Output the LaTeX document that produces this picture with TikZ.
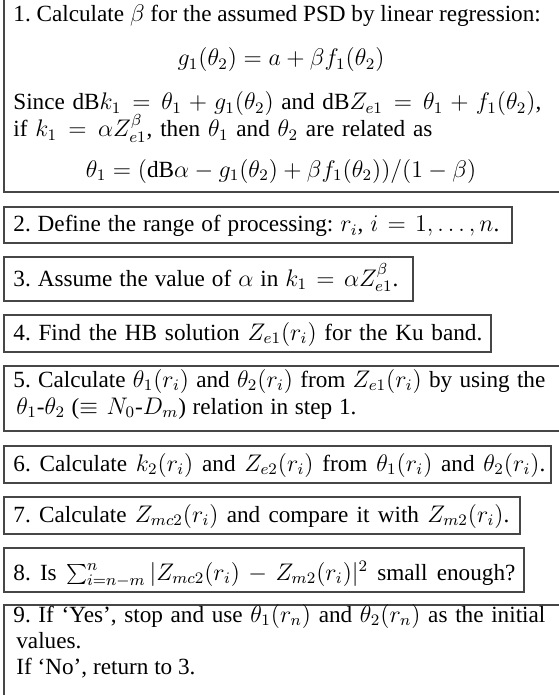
\documentclass[tikz,border=0pt]{standalone}
\usepackage{fontspec}
\setmainfont{Liberation Serif}
\usetikzlibrary{fit}
\definecolor{boxgray}{RGB}{70,70,70}
\newcommand{\fitline}[2]{\hbox to #1{#2}}
\begin{document}
\begin{tikzpicture}[x=0.5pt,y=-0.5pt,
  box/.style={draw=boxgray, line width=0.7pt, inner sep=0pt},
  txt/.style={anchor=base west, inner sep=0pt, font=\fontsize{11.6}{13.5}\selectfont\frenchspacing},
  eq/.style={anchor=base, inner sep=0pt, font=\fontsize{11.6}{13.5}\selectfont}]
\useasboundingbox (0,0) rectangle (558,695);
% boxes
\node[box, fit={(4,-5) (566,192)}] (b1) {};
\node[box, fit={(4,207) (512,243)}] (b2) {};
\node[box, fit={(4,257) (413,301)}] (b3) {};
\node[box, fit={(4,315) (491,352)}] (b4) {};
\node[box, fit={(4,366) (566,431)}] (b5) {};
\node[box, fit={(4,446) (551,483)}] (b6) {};
\node[box, fit={(4,497) (520,534)}] (b7) {};
\node[box, fit={(4,548) (524,592)}] (b8) {};
\node[box, fit={(4,605) (566,705)}] (b9) {};
% box 1
\node[txt] (t1a) at (13,22) {1. Calculate $\beta$ for the assumed PSD by linear regression:};
\node[eq] (t1b) at (281,66) {$g_1(\theta_2) = a + \beta f_1(\theta_2)$};
\node[txt] (t1c) at (13,110) {\fitline{264pt}{Since $\mathrm{dB}k_1 = \theta_1 + g_1(\theta_2)$ and $\mathrm{dB}Z_{e1} = \theta_1 + f_1(\theta_2)$,}};
\node[txt] (t1d) at (13,137) {\fitline{209.5pt}{if $k_1 = \alpha Z_{e1}^{\beta}$, then $\theta_1$ and $\theta_2$ are related as}};
\node[eq] (t1e) at (281,177) {$\theta_1 = (\mathrm{dB}\alpha - g_1(\theta_2) + \beta f_1(\theta_2))/(1-\beta)$};
% box 2-4
\node[txt] (t2) at (13,232) {\fitline{243pt}{2. Define the range of processing: $r_i$, $i = 1,\ldots,n$.}};
\node[txt] (t3) at (13,286) {\fitline{192.5pt}{3. Assume the value of $\alpha$ in $k_1 = \alpha Z_{e1}^{\beta}$.}};
\node[txt] (t4) at (13,340) {\fitline{234.5pt}{4. Find the HB solution $Z_{e1}(r_i)$ for the Ku band.}};
% box 5
\node[txt] (t5a) at (13,387) {\fitline{266pt}{5. Calculate $\theta_1(r_i)$ and $\theta_2(r_i)$ from $Z_{e1}(r_i)$ by using the}};
\node[txt] (t5b) at (16,414) {\fitline{170pt}{$\theta_1$-$\theta_2$ ($\equiv N_0$-$D_m$) relation in step 1.}};
% box 6-8
\node[txt] (t6) at (13,471) {\fitline{266pt}{6. Calculate $k_2(r_i)$ and $Z_{e2}(r_i)$ from $\theta_1(r_i)$ and $\theta_2(r_i)$.}};
\node[txt] (t7) at (13,522) {\fitline{248pt}{7. Calculate $Z_{mc2}(r_i)$ and compare it with $Z_{m2}(r_i)$.}};
\node[txt] (t8) at (13,580) {\fitline{251pt}{8. Is $\sum_{i=n-m}^{n} |Z_{mc2}(r_i) - Z_{m2}(r_i)|^2$ small enough?}};
% box 9
\node[txt] (t9a) at (13,622) {\fitline{266pt}{9. If ‘Yes’, stop and use $\theta_1(r_n)$ and $\theta_2(r_n)$ as the initial}};
\node[txt] (t9b) at (16,648) {values.};
\node[txt] (t9c) at (16,674) {If ‘No’, return to 3.};
\end{tikzpicture}
\end{document}
